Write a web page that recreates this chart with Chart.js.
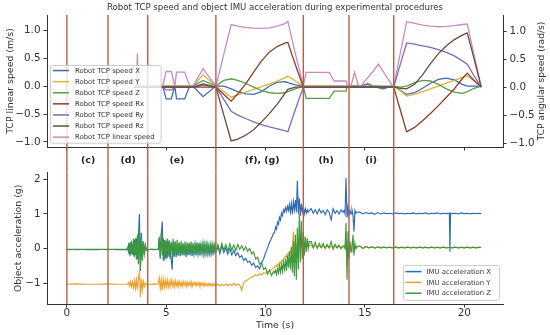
<!DOCTYPE html>
<html><head><meta charset="utf-8">
<script src="https://cdn.jsdelivr.net/npm/chart.js@4.4.1/dist/chart.umd.min.js"></script>
<style>
html,body{margin:0;padding:0;background:#fff;}
#wrap{position:relative;width:550px;height:335px;}
canvas{position:absolute;left:0;top:0;}
</style></head><body>
<div id="wrap"><canvas id="cBottom" width="550" height="335"></canvas><canvas id="cTop" width="550" height="335"></canvas></div>
<script>
// ---------- data ----------
const titleText = 'Robot TCP speed and object IMU acceleration during experimental procedures';
const eventTimes = [0, 2.07, 4.07, 7.5, 11.9, 14.2, 16.45];
const phaseNames = ['(c)', '(d)', '(e)', '(f), (g)', '(h)', '(i)'];
const phaseTimes = [1.07, 3.08, 5.54, 9.83, 13.05, 15.31];
const xTicks = [0, 5, 10, 15, 20];
const tcpTicks = [-1, -0.5, 0, 0.5, 1];
const imuTicks = [-1, 0, 1, 2];

const tcpTime = [3.4,3.5,3.55,3.6,
 4.82,5.0,5.26,5.43,5.52,5.93,6.18,6.35,6.85,7.5,
 7.9,8.27,8.6,9.0,9.4,9.8,10.2,10.6,11.0,11.12,11.5,11.9,
 12.04,13.2,13.45,14.05,14.12,
 14.3,14.48,14.68,14.8,15.15,15.4,15.68,15.9,16.4,
 16.45,16.8,17.1,17.5,17.9,18.3,18.7,19.1,19.5,19.9,20.15,20.5,20.85];
const tcpX = [0,0,0,0,
 0,-0.23,-0.23,0,-0.23,-0.23,0,0,-0.19,0,
 0,-0.05,-0.1,-0.14,-0.15,-0.1,0,0.07,0.08,0.06,0.02,0,
 0,0,0,0,0,
 0,0,0,0,0.04,0,-0.03,-0.05,0,
 0,-0.08,-0.15,-0.12,-0.04,0.05,0.12,0.14,0.11,0.03,0,0,0];
const tcpY = [0,0,0,0,
 0,0,0,0,0,0,0,0,0.2,0,
 -0.1,-0.2,-0.16,-0.11,-0.06,-0.01,0.04,0.09,0.15,0.18,0.09,0,
 0,0,0,0,0,
 0,0,0,0,-0.02,0,0,-0.02,0,
 0,-0.09,-0.18,-0.15,-0.1,-0.05,0,0.05,0.1,0.16,0.18,0.09,0];
const tcpZ = [0,0,0,0,
 0,0,0,0,0,0,0,0,0.1,0,
 0.1,0.13,0.1,0.05,-0.02,-0.08,-0.12,-0.13,-0.12,-0.1,-0.05,0,
 -0.22,-0.22,-0.09,-0.09,0,
 0,0,0,0,0,0,0,0,0,
 0,-0.02,0,0.06,0.1,0.09,0.03,-0.05,-0.11,-0.13,-0.1,-0.04,0];
const tcpRx = [0,0,0,0,
 0,0,0,0,0,0,0,0,0,0,
 -0.13,-0.25,-0.12,0.06,0.27,0.47,0.63,0.73,0.79,0.8,0.4,0,
 0,0,0,0,0,
 0,0,0,0,0,0,0,0,0,
 0,-0.43,-0.8,-0.72,-0.6,-0.47,-0.33,-0.18,-0.03,0.15,0.25,0.12,0];
const tcpRy = [0,0,0,0,
 0,-0.05,-0.05,0,0,0,0,0,0.06,0,
 -0.22,-0.43,-0.5,-0.56,-0.62,-0.67,-0.71,-0.745,-0.78,-0.8,-0.4,0,
 0,0,0,0,0,
 0,0,0,0,0,0,0,0,0,
 0,0.43,0.79,0.77,0.74,0.71,0.67,0.62,0.56,0.47,0.41,0.2,0];
const tcpRz = [0,0,0,0,
 0,0,0,0,0,0,0,0,0.04,0,
 -0.5,-0.96,-0.93,-0.86,-0.76,-0.62,-0.47,-0.3,-0.1,-0.04,0,0,
 0,0,0,0,0,
 0,0,0,0,0,0,0,0,0,
 0,-0.02,-0.03,0.05,0.22,0.42,0.6,0.74,0.85,0.93,0.97,0.5,0];
const tcpLinear = [0,0,0.58,0,
 0,0.26,0.26,0,0.25,0.25,0,0,0.31,0,
 0.57,1.1,1.07,1.05,1.035,1.03,1.04,1.07,1.12,1.16,0.58,0,
 0.245,0.245,0.09,0.09,0,
 0,0.245,0,0,0.155,0.26,0.39,0.27,0,
 0,0.62,1.15,1.12,1.09,1.07,1.06,1.065,1.08,1.1,1.11,0.55,0];

const imuTime = [
 0,0.5,1,1.5,2,2.5,3,
 3.05,3.1,3.15,3.2,3.25,3.3,3.35,3.4,3.45,3.5,3.55,3.6,3.65,3.7,3.75,3.8,3.85,3.9,3.95,4,
 4.2,4.4,4.6,
 4.65,4.7,4.75,4.8,4.85,4.9,4.95,5,5.05,5.1, 5.15,5.2,5.25,5.3,5.35,5.4,5.45,5.5,5.55,5.6,
 5.65,5.7,5.75,5.8,5.85,5.9,5.95,6,6.05,6.1, 6.15,6.2,6.25,6.3,6.35,6.4,6.45,6.5,6.55,6.6,
 6.65,6.7,6.75,6.8,6.85,6.9,6.95,7,7.05,7.1, 7.15,7.2,7.25,7.3,7.35,7.4,7.45,7.5,
 7.6,7.7,7.8,7.9,8,8.1,8.2,8.3,8.4,8.5, 8.6,8.7,8.8,8.9,9,9.1,9.2,9.3,9.4,9.5, 9.6,9.7,9.8,9.9,10,10.1,10.2,10.3,10.4,
 10.45,10.5,10.55,10.6,10.65,10.7,10.75,10.8,10.85,10.9, 10.95,11,11.05,11.1,11.15,11.2,11.25,11.3,11.35,11.4,
 11.45,11.5,11.55,11.6,11.65,11.7,11.75,11.8,11.85,11.9, 11.95,12,12.05,12.1,12.15,12.2,
 12.3,12.4,12.5,12.6,12.7,12.8,12.9,13,13.1,13.2, 13.3,13.4,13.5,13.6,13.7,13.8,13.9,
 13.95,14,14.05,14.1,14.15,14.2,14.25,14.3,14.35,14.4, 14.45,14.5,14.55,14.6,
 14.75,14.9,15.05,15.2,15.35,15.5,15.65,15.8,15.95,16.1, 16.25,16.4,16.55,16.7,16.85,17,17.15,17.3,17.45,17.6,
 17.75,17.9,18.05,18.2,18.35,18.5,18.65,18.8,18.95,19.1, 19.25,19.28,19.31,19.4,19.55,19.7,19.85,20,20.15,20.3,
 20.45,20.6,20.75,20.85];
const imuX = [
 -0.03,-0.02,-0.03,-0.03,-0.02,-0.03,-0.03,
 -0.03,0.1,-0.12,0.18,-0.15,0.12,-0.2,0.25,-0.18,0.3,-0.3,0.35,1.0,-0.65,0.45,-0.3,0.2,-0.15,0.1,-0.05,
 -0.02,-0.03,-0.02,
 0.3,-0.25,0.4,0.78,-0.35,0.25,-0.3,0.2,-0.28,0.22, -0.25,0.15,-0.3,-0.61,0.18,-0.22,0.2,-0.25,0.12,-0.2,
 0.15,-0.22,0.1,-0.18,0.14,-0.2,0.12,-0.25,0.1,-0.18, 0.16,-0.2,0.08,-0.22,0.12,-0.16,0.1,-0.2,0.14,-0.15,
 0.08,-0.2,0.12,-0.14,0.1,-0.18,0.08,-0.15,0.1,-0.16, 0.06,-0.14,0.1,-0.15,0.05,-0.12,0.08,-0.1,
 0.05,-0.15,0.08,-0.12,0.02,-0.16,0,-0.18,-0.05,-0.2, -0.12,-0.26,-0.2,-0.34,-0.28,-0.4,-0.36,-0.48,-0.42,-0.55, -0.5,-0.58,-0.42,-0.3,-0.12,0.02,0.18,0.3,0.45,
 0.45,0.62,0.56,0.76,0.7,0.9,0.82,1.02,0.95,1.12, 1.05,1.18,1.08,1.22,1.1,1.28,1.05,1.3,1.0,1.35,
 1.12,1.4,1.05,1.96,1.0,1.45,0.95,1.3,1.05,1.2, 1.0,1.15,1.02,1.12,1.05,1.1,
 1.15,1.02,1.12,1.0,1.14,1.03,1.1,0.98,1.12,1.05, 0.83,1.15,1.02,1.1,1.0,1.12,1.05,
 1.1,1.0,2.04,0.9,1.2,0.95,1.1,1.0,1.12,0.98, 0.49,1.1,1.02,1.05,
 1.05,1.0,1.04,1.01,1.03,0.99,1.04,1.0,1.03,1.01, 1.02,1.0,1.03,1.01,1.02,1.0,1.02,1.01,1.03,1.0,
 1.02,1.01,1.03,1.0,1.02,1.01,1.03,1.0,1.02,1.01, 1.02,-0.09,1.02,1.01,1.02,1.0,1.03,1.01,1.02,1.0,
 1.02,1.01,1.02,1.01];
const imuY = [
 -1.03,-1.02,-1.03,-1.03,-1.02,-1.03,-1.03,
 -1.03,-0.98,-1.08,-0.95,-1.1,-0.96,-1.12,-0.92,-1.15,-0.9,-1.18,-0.85,-0.7,-1.4,-0.88,-1.2,-0.95,-1.1,-1.0,-1.05,
 -1.03,-1.02,-1.03,
 -0.85,-1.15,-0.9,-1.2,-0.88,-1.12,-0.92,-1.1,-0.9,-1.12, -0.95,-1.1,-0.9,-1.08,-0.95,-1.12,-0.92,-1.08,-0.96,-1.1,
 -0.94,-1.08,-0.98,-1.1,-0.95,-1.06,-0.97,-1.1,-0.96,-1.08, -0.98,-1.06,-0.95,-1.1,-0.98,-1.05,-0.97,-1.08,-0.99,-1.06,
 -0.98,-1.08,-1.0,-1.06,-0.99,-1.09,-1.0,-1.07,-1.01,-1.08, -1.0,-1.06,-1.02,-1.08,-1.01,-1.07,-1.03,-1.06,
 -1.02,-1.08,-1.03,-1.07,-1.02,-1.08,-1.03,-1.06,-1.0,-1.07, -1.02,-1.05,-1.2,-0.98,-0.94,-0.9,-0.86,-0.82,-0.8,-0.76, -0.78,-0.72,-0.76,-0.7,-0.72,-0.66,-0.65,-0.6,-0.56,
 -0.55,-0.5,-0.52,-0.45,-0.48,-0.4,-0.42,-0.35,-0.36,-0.3, -0.3,-0.22,-0.25,-0.15,-0.18,-0.08,-0.12,0.0,-0.05,0.49,
 0.02,0.2,-0.05,0.15,0.0,0.18,0.02,0.12,0.04,0.1, 0.05,0.12,0.06,0.1,0.05,0.09,
 0.1,0.02,0.09,0.03,0.08,0.02,0.07,0.03,0.08,0.02, 0.06,0.03,0.07,0.02,0.06,0.03,0.05,
 0.05,0.02,0.3,-0.5,0.2,-0.1,0.08,0.0,0.06,0.15, -0.05,0.06,0.02,0.04,
 0.06,0.01,0.05,0.02,0.04,0.02,0.04,0.02,0.04,0.03, 0.03,0.02,0.04,0.02,0.03,0.02,0.04,0.02,0.03,0.02,
 0.04,0.02,0.03,0.02,0.04,0.02,0.03,0.02,0.04,0.02, 0.03,0.03,0.03,0.02,0.04,0.02,0.03,0.02,0.04,0.02,
 0.03,0.02,0.03,0.03];
const imuZ = [
 -0.02,-0.03,-0.02,-0.02,-0.03,-0.02,-0.02,
 0.02,-0.1,0.15,-0.2,0.22,-0.18,0.28,-0.25,0.3,-0.32,0.4,-0.45,0.55,-0.6,0.3,-0.35,0.2,-0.15,0.08,-0.04,
 -0.02,-0.02,-0.03,
 0.35,-0.3,0.45,-0.2,0.3,-0.35,0.25,-0.28,0.3,-0.2, 0.25,-0.3,0.2,-0.15,0.28,-0.25,0.2,-0.18,0.25,-0.2,
 0.18,-0.15,0.22,-0.2,0.15,-0.18,0.2,-0.15,0.18,-0.2, 0.15,-0.12,0.2,-0.15,0.16,-0.18,0.12,-0.14,0.18,-0.12,
 0.15,-0.16,0.12,-0.1,0.16,-0.12,0.14,-0.1,0.15,-0.12, 0.1,-0.14,0.12,-0.1,0.14,-0.08,0.12,-0.1,
 0.12,-0.08,0.15,-0.05,0.12,-0.08,0.14,-0.04,0.1,-0.06, 0.12,-0.02,0.08,-0.05,0.05,-0.08, 0.0,-0.15,-0.1,-0.3,-0.25,-0.45,-0.4,-0.6,-0.55,-0.74,-0.62,-0.78,-0.66,
 -0.7,-0.62,-0.75,-0.58,-0.7,-0.5,-0.68,-0.45,-0.66,-0.4, -0.6,-0.3,-0.65,-0.2,-0.55,-0.1,-0.6,0.05,-0.7,0.2,
 -0.8,0.4,-0.9,0.6,-0.6,1.0,-0.4,0.8,-0.3,0.5, -0.2,0.35,-0.1,0.3,0.0,0.2,
 0.2,0.02,0.18,0.0,0.15,0.03,0.14,0.0,0.12,0.02, 0.2,-0.02,0.12,0.02,0.1,0.0,0.08,
 0.08,0.0,0.74,-0.9,0.5,-0.3,0.2,-0.1,0.1,0.4, -0.2,0.15,0.0,0.06,
 0.08,0.0,0.06,0.02,0.05,0.01,0.05,0.02,0.04,0.02, 0.04,0.02,0.04,0.02,0.04,0.02,0.04,0.02,0.04,0.02,
 0.04,0.02,0.04,0.02,0.04,0.02,0.04,0.02,0.04,0.02, 0.03,0.03,0.03,0.02,0.04,0.02,0.04,0.02,0.04,0.02,
 0.04,0.02,0.04,0.03];

// ---------- helpers / styles ----------
const FONT = "'DejaVu Sans', sans-serif";
const AX = '#333333', TXT = '#333333';
const EVT = '#b2604a';
function pts(ts, vs) { return ts.map((t, i) => ({x: t, y: vs[i]})); }
function ds(label, ts, vs, color, yAxisID, order, w) {
  return {label, data: pts(ts, vs), borderColor: color, backgroundColor: color,
    borderWidth: w, pointRadius: 0, tension: 0, fill: false, yAxisID, order};
}
const fmt1 = v => (v < 0 ? '\u2212' : '') + Math.abs(v).toFixed(1);
const fmt0 = v => (v < 0 ? '\u2212' : '') + Math.abs(v);

const eventLines = {
  id: 'eventLines',
  afterDatasetsDraw(chart, args, o) {
    const xs = chart.scales.x, ca = chart.chartArea, ctx = chart.ctx;
    const y1 = o.extend ? xs.bottom : ca.bottom;
    ctx.save(); ctx.strokeStyle = o.color; ctx.lineWidth = o.width;
    eventTimes.forEach(t => {
      const px = xs.getPixelForValue(t);
      ctx.beginPath(); ctx.moveTo(px, ca.top); ctx.lineTo(px, y1); ctx.stroke();
    });
    ctx.restore();
  }
};
const boxLegend = {
  id: 'boxLegend',
  afterDraw(chart, args, o) {
    const ctx = chart.ctx; ctx.save();
    ctx.font = o.fontSize + 'px ' + FONT;
    const items = chart.data.datasets;
    const tw = Math.max(...items.map(d => ctx.measureText(d.label).width));
    const w = (o.textX - o.left) + tw + o.padR;
    const h = o.rowH * items.length + o.padV * 2;
    ctx.beginPath();
    if (ctx.roundRect) ctx.roundRect(o.left + 0.5, o.top + 0.5, w, h, 2); else ctx.rect(o.left + 0.5, o.top + 0.5, w, h);
    ctx.fillStyle = 'rgba(255,255,255,0.8)'; ctx.fill();
    ctx.strokeStyle = 'rgba(200,200,200,0.9)'; ctx.lineWidth = 1; ctx.stroke();
    items.forEach((d, i) => {
      const y = o.top + o.padV + o.rowH * (i + 0.5);
      ctx.strokeStyle = d.borderColor; ctx.lineWidth = o.lineW;
      ctx.beginPath(); ctx.moveTo(o.lineX0, y); ctx.lineTo(o.lineX1, y); ctx.stroke();
      ctx.fillStyle = TXT; ctx.textBaseline = 'middle'; ctx.textAlign = 'left';
      ctx.fillText(d.label, o.textX, y + 0.5);
    });
    ctx.restore();
  }
};
const decorTop = {
  id: 'decorTop',
  afterDraw(chart) {
    const ctx = chart.ctx, xs = chart.scales.x, ca = chart.chartArea, y2 = chart.scales.y2;
    ctx.save();
    ctx.textAlign = 'center'; ctx.textBaseline = 'middle';
    ctx.fillStyle = TXT; ctx.font = '8.6px ' + FONT;
    ctx.fillText(titleText, (ca.left + ca.right) / 2, 8);
    ctx.font = 'bold 9.4px ' + FONT; ctx.fillStyle = '#222';
    const ly = (ca.bottom + xs.bottom) / 2 + 0.5;
    phaseNames.forEach((n, i) => ctx.fillText(n, xs.getPixelForValue(phaseTimes[i]), ly));
    ctx.translate(y2.right - 8, (ca.top + ca.bottom) / 2);
    ctx.rotate(-Math.PI / 2);
    ctx.font = '9.2px ' + FONT; ctx.fillStyle = TXT;
    ctx.fillText('TCP angular speed (rad/s)', 0, 0);
    ctx.restore();
  }
};

const tickFont = {family: FONT, size: 10.4};
const gridTicks = {display: true, drawOnChartArea: false, drawTicks: true, tickLength: 3.5, tickColor: AX, tickWidth: 1};
const border = {display: true, color: AX, width: 1};

// ---------- top chart ----------
const C = {X: '#3e6bb4', Y: '#d8b43a', Z: '#5a9a48', Rx: '#8e3b22', Ry: '#7d6bb8', Rz: '#6a4a3a', L: '#c98bc3'};
new Chart(document.getElementById('cTop'), {
  type: 'line',
  data: {datasets: [
    ds('Robot TCP speed X', tcpTime, tcpX, C.X, 'y', 7, 1.3),
    ds('Robot TCP speed Y', tcpTime, tcpY, C.Y, 'y', 6, 1.3),
    ds('Robot TCP speed Z', tcpTime, tcpZ, C.Z, 'y', 5, 1.3),
    ds('Robot TCP speed Rx', tcpTime, tcpRx, C.Rx, 'y2', 3, 1.3),
    ds('Robot TCP speed Ry', tcpTime, tcpRy, C.Ry, 'y2', 2, 1.3),
    ds('Robot TCP speed Rz', tcpTime, tcpRz, C.Rz, 'y2', 1, 1.3),
    ds('Robot TCP linear speed', tcpTime, tcpLinear, C.L, 'y', 4, 1.3)
  ]},
  options: {
    responsive: false, animation: false, devicePixelRatio: 1, events: [],
    layout: {padding: {top: 15, bottom: 162.3, left: 0, right: 0}},
    plugins: {
      legend: {display: false}, tooltip: {enabled: false},
      eventLines: {color: EVT, width: 1.4, extend: true},
      boxLegend: {left: 50, top: 65, rowH: 11.1, padV: 0, padR: 6, lineX0: 53, lineX1: 69, textX: 75, fontSize: 6.9, lineW: 1.5}
    },
    scales: {
      x: {type: 'linear', min: -1, max: 21.95,
        afterBuildTicks: s => { s.ticks = xTicks.map(v => ({value: v})); },
        afterFit: s => { s.height = 25.7; },
        border, grid: gridTicks,
        ticks: {callback: () => '', font: tickFont, autoSkip: false, maxRotation: 0}},
      y: {position: 'left', min: -1.09, max: 1.27,
        afterBuildTicks: s => { s.ticks = tcpTicks.map(v => ({value: v})); },
        afterFit: s => { s.width = 47; },
        border, grid: gridTicks,
        ticks: {callback: v => fmt1(v), font: tickFont, color: TXT, padding: 3},
        title: {display: true, text: 'TCP linear speed (m/s)', font: {family: FONT, size: 9.4}, color: TXT, padding: {top: 5.4, bottom: 0}}},
      y2: {position: 'right', min: -1.07, max: 1.29,
        afterBuildTicks: s => { s.ticks = tcpTicks.map(v => ({value: v})); },
        afterFit: s => { s.width = 47; },
        border, grid: gridTicks,
        ticks: {callback: v => fmt1(v), font: tickFont, color: TXT, padding: 3}}
    }
  },
  plugins: [eventLines, boxLegend, decorTop]
});

// ---------- bottom chart ----------
const B = {X: '#2e6bb5', Y: '#eba02a', Z: '#3c9a3c'};
new Chart(document.getElementById('cBottom'), {
  type: 'line',
  data: {datasets: [
    ds('IMU acceleration X', imuTime, imuX, B.X, 'y', 3, 1.15),
    ds('IMU acceleration Y', imuTime, imuY, B.Y, 'y', 2, 1.15),
    ds('IMU acceleration Z', imuTime, imuZ, B.Z, 'y', 1, 1.15)
  ]},
  options: {
    responsive: false, animation: false, devicePixelRatio: 1, events: [],
    layout: {padding: {top: 172.7, bottom: 0, left: 0, right: 47}},
    plugins: {
      legend: {display: false}, tooltip: {enabled: false},
      eventLines: {color: EVT, width: 1.4, extend: false},
      boxLegend: {left: 403, top: 265, rowH: 10.8, padV: 1.2, padR: 8, lineX0: 405.5, lineX1: 421.5, textX: 426.5, fontSize: 6.9, lineW: 1.5}
    },
    scales: {
      x: {type: 'linear', min: -1, max: 21.95,
        afterBuildTicks: s => { s.ticks = xTicks.map(v => ({value: v})); },
        afterFit: s => { s.height = 31; },
        border, grid: gridTicks,
        ticks: {callback: v => String(v), font: tickFont, color: TXT, padding: 0, autoSkip: false, maxRotation: 0},
        title: {display: true, text: 'Time (s)', font: {family: FONT, size: 9.4}, color: TXT, padding: {top: 0, bottom: 3.4}}},
      y: {position: 'left', min: -1.6, max: 2.19,
        afterBuildTicks: s => { s.ticks = imuTicks.map(v => ({value: v})); },
        afterFit: s => { s.width = 47; },
        border, grid: gridTicks,
        ticks: {callback: v => fmt0(v), font: tickFont, color: TXT, padding: 3},
        title: {display: true, text: 'Object acceleration (g)', font: {family: FONT, size: 9.4}, color: TXT, padding: {top: 13.4, bottom: 0}}}
    }
  },
  plugins: [eventLines, boxLegend]
});
</script>
</body></html>
